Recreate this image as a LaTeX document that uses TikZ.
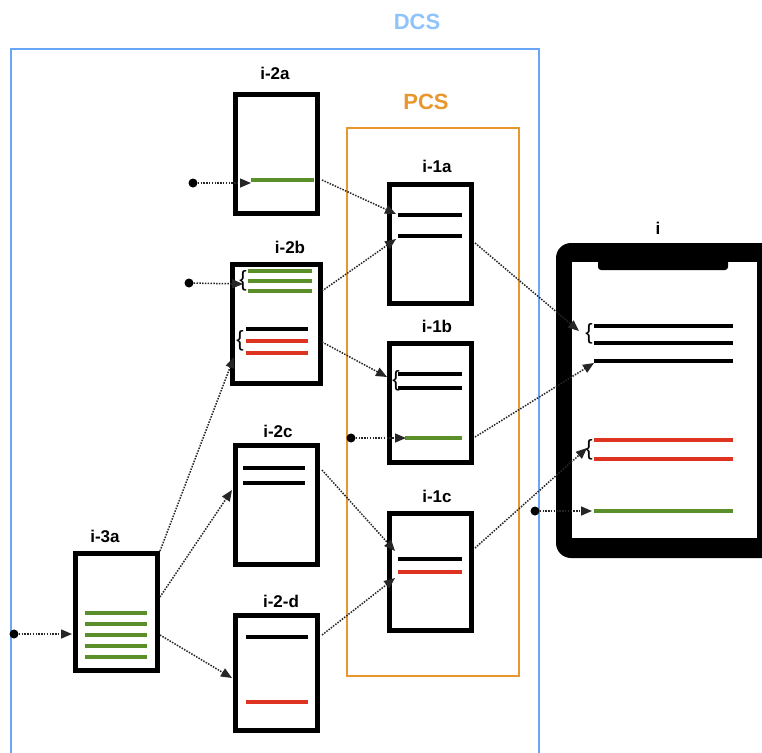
\documentclass[tikz,border=0pt]{standalone}
\usepackage{fontspec}
\setmainfont{Liberation Sans}
\usetikzlibrary{arrows.meta}
\definecolor{dcsblue}{HTML}{6AA6F8}
\definecolor{dcstext}{HTML}{8EC3FB}
\definecolor{pcsorange}{HTML}{E8962E}
\definecolor{lgreen}{HTML}{5A8F29}
\definecolor{lred}{HTML}{DD3320}
\begin{document}
\begin{tikzpicture}[x=1pt,y=-1pt,
 docbox/.style={draw=black, line width=5pt, minimum width=82pt, minimum height=119pt, inner sep=0pt, fill=white},
 lbl/.style={font=\bfseries\fontsize{17}{17}\selectfont, inner sep=0pt},
 grouplbl/.style={font=\bfseries\fontsize{22}{22}\selectfont, inner sep=0pt},
 conn/.style={draw=black!85, line width=1.5pt, dash pattern=on 1.5pt off 1.3pt, -{Triangle[length=11pt,width=9pt]}},
 srcdot/.style={circle, fill=black, inner sep=0pt, minimum size=9pt},
 txtline/.style={line width=3.2pt},
 bracechar/.style={font=\fontsize{22}{22}\selectfont, inner sep=0pt}
]
\useasboundingbox (0,0) rectangle (762,752);
\fill[white] (0,0) rectangle (762,752);

% group frames
\draw[dcsblue, line width=2.5pt] (11,770) -- (11,49) -- (539,49) -- (539,770);
\node[grouplbl, text=dcstext] (dcs) at (417,22) {DCS};
\draw[pcsorange, line width=2.2pt] (347,128) rectangle (519,676);
\node[grouplbl, text=pcsorange] (pcs) at (426,102) {PCS};

% document boxes
\node[docbox] (i2a) at (276.5,154) {};
\node[docbox, minimum width=88pt] (i2b) at (276,323.5) {};
\node[docbox] (i2c) at (276.5,505) {};
\node[docbox, minimum height=115pt] (i2d) at (276.5,673) {};
\node[docbox, minimum height=117pt] (i3a) at (116,612) {};
\node[docbox] (i1a) at (430.5,244) {};
\node[docbox] (i1b) at (430.5,403) {};
\node[docbox, minimum height=117pt] (i1c) at (430.5,572) {};

% labels
\node[lbl] (l2a) at (275,73) {i-2a};
\node[lbl] (l2b) at (290,247) {i-2b};
\node[lbl] (l2c) at (278,431) {i-2c};
\node[lbl] (l2d) at (281,601) {i-2-d};
\node[lbl] (l3a) at (105,536) {i-3a};
\node[lbl] (l1a) at (437,166) {i-1a};
\node[lbl] (l1b) at (437,326) {i-1b};
\node[lbl] (l1c) at (437,496) {i-1c};
\node[lbl] (li) at (658,228) {i};

% phone
\fill[black, rounded corners=15pt] (556,243) rectangle (780,558);
\fill[white] (572,262) rectangle (757,538);
\fill[black, rounded corners=3pt] (598,255) rectangle (728,270);

% text lines: i-2a
\draw[txtline, lgreen] (251,180) -- (314,180);
% i-2b
\draw[txtline, lgreen] (248,271) -- (312,271);
\draw[txtline, lgreen] (248,281) -- (312,281);
\draw[txtline, lgreen] (248,291) -- (312,291);
\draw[txtline, black] (246,329) -- (308,329);
\draw[txtline, lred] (246,341) -- (308,341);
\draw[txtline, lred] (246,353) -- (308,353);
\node[bracechar] (b2bg) at (243,281) {\{};
\node[bracechar] (b2br) at (240,341) {\{};
% i-2c
\draw[txtline, black] (243,468) -- (305,468);
\draw[txtline, black] (243,483) -- (305,483);
% i-2-d
\draw[txtline, black] (246,637) -- (308,637);
\draw[txtline, lred] (246,702) -- (308,702);
% i-3a
\foreach \yy in {613,624,635,646,657} \draw[txtline, lgreen] (85,\yy) -- (147,\yy);
% i-1a
\draw[txtline, black] (398,215) -- (462,215);
\draw[txtline, black] (398,236) -- (462,236);
% i-1b
\draw[txtline, black] (398,374) -- (462,374);
\draw[txtline, black] (398,388) -- (462,388);
\node[bracechar] (b1b) at (396,381) {\{};
\draw[txtline, lgreen] (405,438) -- (462,438);
% i-1c
\draw[txtline, black] (398,559) -- (462,559);
\draw[txtline, lred] (398,572) -- (462,572);
% phone lines
\draw[txtline, black] (594,326) -- (733,326);
\draw[txtline, black] (594,343) -- (733,343);
\draw[txtline, black] (594,361) -- (733,361);
\node[bracechar] (bib) at (589,334) {\{};
\draw[txtline, lred] (594,440) -- (733,440);
\draw[txtline, lred] (594,459) -- (733,459);
\node[bracechar] (bir) at (589,450) {\{};
\draw[txtline, lgreen] (594,511) -- (733,511);

% source dots
\node[srcdot] (d2a) at (193,183) {};
\node[srcdot] (d2b) at (189,283) {};
\node[srcdot] (d1b) at (351,438) {};
\node[srcdot] (di) at (535,511) {};
\node[srcdot] (d3a) at (14,634) {};

% connector ports
\coordinate (o3a1) at (160,551);
\coordinate (o3a2) at (160,597);
\coordinate (o3a3) at (160,635);
\coordinate (o2a) at (322,180);
\coordinate (o2b1) at (322,291);
\coordinate (o2b2) at (322,342);
\coordinate (o2c) at (322,470);
\coordinate (o2d) at (322,635);
\coordinate (o1a) at (475,243);
\coordinate (o1b) at (475,437);
\coordinate (o1c) at (475,548);
\coordinate (t2a) at (251,183);
\coordinate (t2b1) at (243,284);
\coordinate (t2b2) at (234,357);
\coordinate (t2c) at (232,490);
\coordinate (t2d) at (232,678);
\coordinate (t3a) at (72,634);
\coordinate (t1a1) at (396,214);
\coordinate (t1a2) at (396,239);
\coordinate (t1b1) at (387,377);
\coordinate (t1b2) at (406,438);
\coordinate (t1c1) at (395,551);
\coordinate (t1c2) at (395,578);
\coordinate (ti1) at (579,331);
\coordinate (ti2) at (594,363);
\coordinate (ti3) at (587,448);
\coordinate (ti4) at (592,511);

% connectors
\draw[conn] (d2a) -- (t2a);
\draw[conn] (d2b) -- (t2b1);
\draw[conn] (d1b) -- (t1b2);
\draw[conn] (di) -- (ti4);
\draw[conn] (d3a) -- (t3a);
\draw[conn] (o3a1) -- (t2b2);
\draw[conn] (o3a2) -- (t2c);
\draw[conn] (o3a3) -- (t2d);
\draw[conn] (o2a) -- (t1a1);
\draw[conn] (o2b1) -- (t1a2);
\draw[conn] (o2b2) -- (t1b1);
\draw[conn] (o2c) -- (t1c1);
\draw[conn] (o2d) -- (t1c2);
\draw[conn] (o1a) -- (ti1);
\draw[conn] (o1b) -- (ti2);
\draw[conn] (o1c) -- (ti3);
\end{tikzpicture}
\end{document}
